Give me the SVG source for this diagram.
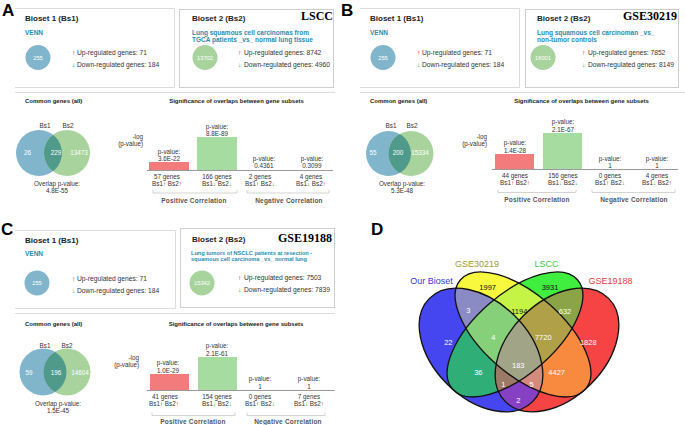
<svg xmlns="http://www.w3.org/2000/svg" width="685" height="425" viewBox="0 0 685 425">
<style>
text{font-family:"Liberation Sans",Arial,sans-serif}
.pl{font-size:17px;font-weight:bold;fill:#000}
.h{font-size:8px;font-weight:bold;fill:#222}
.vn{font-size:6.5px;font-weight:bold;fill:#2b8bb0}
.rg{font-size:6.7px;fill:#333}
.ar{font-size:6.5px}
.up{fill:#e02222}
.dn{fill:#33aa33}
.cw{font-size:5.8px;fill:#fff;text-anchor:middle}
.ds{font-size:6.5px;font-weight:bold;fill:#2b8bb0}
.ds2{font-size:5.6px;font-weight:bold;fill:#2b8bb0}
.ti{font-size:12px;font-weight:bold;font-family:"Liberation Serif","Times New Roman",serif;fill:#000;text-anchor:end}
.st{font-size:6px;font-weight:bold;fill:#222}
.stc{font-size:6px;font-weight:bold;fill:#222;text-anchor:middle}
.sm{font-size:6.3px;fill:#333;text-anchor:middle}
.sr{font-size:6.3px;fill:#333;text-anchor:end}
.vw{font-size:6.3px;fill:#fff;text-anchor:middle}
.cr{font-size:6.5px;font-weight:bold;fill:#555;text-anchor:middle;letter-spacing:0.2px}
.fr{stroke:#dcdcdc;fill:none;stroke-width:1}
.bx{stroke:#cfcfcf;fill:#fff;stroke-width:1}
.ax{stroke:#9a9a9a;stroke-width:1}
.br{stroke:#c8c8c8;fill:none;stroke-width:0.8}
.cb{fill:#80b5cb}
.cg{fill:#a8d39d}
.co{fill:#4f9a8a}
.rb{fill:#f47b7b}
.gb{fill:#a7dca1}
.vl{font-size:9px;text-anchor:middle}
.n{font-size:7.5px;text-anchor:middle;fill:#fff}
.nk{fill:#111}
</style>
<defs>
<clipPath id="clA"><circle cx="39" cy="153" r="23"/></clipPath>
<clipPath id="clB"><circle cx="43.5" cy="153.5" r="22.5"/></clipPath>
<clipPath id="clC"><circle cx="43" cy="372" r="23.5"/></clipPath>
<ellipse id="eB" cx="481" cy="350" rx="73" ry="48" transform="rotate(45 481 350)"/>
<ellipse id="eY" cx="523" cy="334.4" rx="83" ry="40" transform="rotate(41.2 523 334.4)"/>
<ellipse id="eG" cx="515" cy="334.4" rx="83" ry="40" transform="rotate(-41.2 515 334.4)"/>
<ellipse id="eR" cx="557" cy="350" rx="73" ry="48" transform="rotate(-45 557 350)"/>
<clipPath id="cB"><use href="#eB"/></clipPath>
<clipPath id="cY"><use href="#eY"/></clipPath>
<clipPath id="cG"><use href="#eG"/></clipPath>
</defs>

<!-- ================= PANEL A ================= -->
<g id="panelA">
<text class="pl" x="2" y="16">A</text>
<g id="A-bioset1">
<path class="fr" d="M15,8.5H174.5V87.5H15"/>
<text class="h" x="25" y="21">Bioset 1 (Bs1)</text>
<text class="vn" x="25" y="34.5">VENN</text>
<circle class="cb" cx="38" cy="57.5" r="12.5"/>
<text class="cw" x="38" y="59.5">255</text>
<text class="ar up" x="72" y="54.5">↑</text><text class="rg" x="77" y="54.5">Up-regulated genes: 71</text>
<text class="ar dn" x="72" y="66.5">↓</text><text class="rg" x="77" y="66.5">Down-regulated genes: 184</text>
</g>
<g id="A-bioset2">
<rect class="bx" x="179.5" y="9.5" width="154" height="78"/>
<text class="h" x="192" y="21">Bioset 2 (Bs2)</text>
<text class="ti" x="333" y="20">LSCC</text>
<text class="ds" x="192" y="34.5">Lung squamous cell carcinomas from</text>
<text class="ds" x="192" y="41.5">TGCA patients _vs_ normal lung tissue</text>
<circle class="cg" cx="205" cy="57.5" r="12.5"/>
<text class="cw" x="205" y="59.5">13702</text>
<text class="ar up" x="238" y="54.5">↑</text><text class="rg" x="244" y="54.5">Up-regulated genes: 8742</text>
<text class="ar dn" x="238" y="66.5">↓</text><text class="rg" x="244" y="66.5">Down-regulated genes: 4960</text>
</g>
<g id="A-common">
<line class="fr" x1="15" y1="92.5" x2="335" y2="92.5"/>
<text class="st" x="25" y="103">Common genes (all)</text>
<circle class="cb" cx="39" cy="153" r="23"/>
<circle class="cg" cx="67" cy="153" r="23"/>
<circle class="co" cx="67" cy="153" r="23" clip-path="url(#clA)"/>
<text class="sm" x="45" y="128">Bs1</text>
<text class="sm" x="68" y="128">Bs2</text>
<text class="vw" x="27.5" y="154.5">26</text>
<text class="vw" x="56" y="154.5">229</text>
<text class="vw" x="79" y="154.5">13473</text>
<text class="sm" x="57" y="185.5">Overlap p-value:</text>
<text class="sm" x="57" y="193">4.8E-55</text>
</g>
<g id="A-overlaps">
<text class="stc" x="236.5" y="103">Significance of overlaps between gene subsets</text>
<text class="sr" x="143" y="139">-log</text>
<text class="sr" x="143" y="146">(p-value)</text>
<rect class="rb" x="149" y="162" width="40" height="8"/>
<rect class="gb" x="197" y="137" width="40" height="33"/>
<line class="ax" x1="147" y1="170.5" x2="333" y2="170.5"/>
<text class="sm" x="169" y="153.5">p-value:</text><text class="sm" x="169" y="160.5">3.6E-22</text>
<text class="sm" x="217" y="128.5">p-value:</text><text class="sm" x="217" y="135.5">8.8E-89</text>
<text class="sm" x="264" y="160.5">p-value:</text><text class="sm" x="264" y="168">0.4361</text>
<text class="sm" x="312" y="160.5">p-value:</text><text class="sm" x="312" y="168">0.3099</text>
<text class="sm" x="167" y="178.5">57 genes</text><text class="sm" x="167" y="185.5">Bs1<tspan class="up">↑</tspan> Bs2<tspan class="up">↑</tspan></text>
<text class="sm" x="217" y="178.5">166 genes</text><text class="sm" x="217" y="185.5">Bs1<tspan class="dn">↓</tspan> Bs2<tspan class="dn">↓</tspan></text>
<text class="sm" x="260" y="178.5">2 genes</text><text class="sm" x="260" y="185.5">Bs1<tspan class="up">↑</tspan> Bs2<tspan class="dn">↓</tspan></text>
<text class="sm" x="311" y="178.5">4 genes</text><text class="sm" x="311" y="185.5">Bs1<tspan class="dn">↓</tspan> Bs2<tspan class="up">↑</tspan></text>
<path class="br" d="M153,190V193H237V190M247,190V193H329V190"/>
<text class="cr" x="194" y="203">Positive Correlation</text>
<text class="cr" x="289" y="203">Negative Correlation</text>
</g>
</g>

<!-- ================= PANEL B ================= -->
<g id="panelB">
<text class="pl" x="341" y="16">B</text>
<g transform="translate(345,0)">
<g id="B-bioset1">
<path class="fr" d="M15,8.5H174.5V87.5H15"/>
<text class="h" x="25" y="21">Bioset 1 (Bs1)</text>
<text class="vn" x="25" y="34.5">VENN</text>
<circle class="cb" cx="38" cy="57.5" r="12.5"/>
<text class="cw" x="38" y="59.5">255</text>
<text class="ar up" x="72" y="54.5">↑</text><text class="rg" x="77" y="54.5">Up-regulated genes: 71</text>
<text class="ar dn" x="72" y="66.5">↓</text><text class="rg" x="77" y="66.5">Down-regulated genes: 184</text>
</g>
<g id="B-bioset2">
<rect class="bx" x="180.5" y="9.5" width="153" height="78"/>
<text class="h" x="192" y="21">Bioset 2 (Bs2)</text>
<text class="ti" x="332" y="20">GSE30219</text>
<text class="ds" x="192" y="34.5">Lung squamous cell carcinoman _vs_</text>
<text class="ds" x="192" y="41.5">non-tumor controls</text>
<circle class="cg" cx="198" cy="57.5" r="12.5"/>
<text class="cw" x="198" y="59.5">16001</text>
<text class="ar up" x="237" y="54.5">↑</text><text class="rg" x="243" y="54.5">Up-regulated genes: 7852</text>
<text class="ar dn" x="237" y="66.5">↓</text><text class="rg" x="243" y="66.5">Down-regulated genes: 8149</text>
</g>
<g id="B-common">
<line class="fr" x1="15" y1="92.5" x2="340" y2="92.5"/>
<text class="st" x="25" y="103">Common genes (all)</text>
<circle class="cb" cx="43.5" cy="153.5" r="22.5"/>
<circle class="cg" cx="66" cy="153.5" r="22.5"/>
<circle class="co" cx="66" cy="153.5" r="22.5" clip-path="url(#clB)"/>
<text class="sm" x="46" y="128">Bs1</text>
<text class="sm" x="67" y="128">Bs2</text>
<text class="vw" x="28" y="155">55</text>
<text class="vw" x="53" y="155">200</text>
<text class="vw" x="75" y="155">15334</text>
<text class="sm" x="57" y="185.5">Overlap p-value:</text>
<text class="sm" x="57" y="193">5.3E-48</text>
</g>
<g id="B-overlaps">
<text class="stc" x="236.5" y="103">Significance of overlaps between gene subsets</text>
<text class="sr" x="142" y="139">-log</text>
<text class="sr" x="142" y="146">(p-value)</text>
<rect class="rb" x="150" y="154" width="39" height="15"/>
<rect class="gb" x="198" y="133" width="39" height="36"/>
<line class="ax" x1="147" y1="169.5" x2="333" y2="169.5"/>
<text class="sm" x="170" y="145">p-value:</text><text class="sm" x="170" y="152.5">1.4E-28</text>
<text class="sm" x="218" y="124">p-value:</text><text class="sm" x="218" y="131.5">2.1E-67</text>
<text class="sm" x="265" y="160.5">p-value:</text><text class="sm" x="265" y="168">1</text>
<text class="sm" x="312" y="160.5">p-value:</text><text class="sm" x="312" y="168">1</text>
<text class="sm" x="170" y="178">44 genes</text><text class="sm" x="170" y="185">Bs1<tspan class="up">↑</tspan> Bs2<tspan class="up">↑</tspan></text>
<text class="sm" x="218" y="178">156 genes</text><text class="sm" x="218" y="185">Bs1<tspan class="dn">↓</tspan> Bs2<tspan class="dn">↓</tspan></text>
<text class="sm" x="265" y="178">0 genes</text><text class="sm" x="265" y="185">Bs1<tspan class="up">↑</tspan> Bs2<tspan class="dn">↓</tspan></text>
<text class="sm" x="312" y="178">4 genes</text><text class="sm" x="312" y="185">Bs1<tspan class="dn">↓</tspan> Bs2<tspan class="up">↑</tspan></text>
<path class="br" d="M153,189.5V192.5H231V189.5M247,189.5V192.5H330V189.5"/>
<text class="cr" x="192" y="202">Positive Correlation</text>
<text class="cr" x="289" y="202">Negative Correlation</text>
</g>
</g>
</g>

<!-- ================= PANEL C ================= -->
<g id="panelC">
<text class="pl" x="1" y="235">C</text>
<g id="C-bioset1">
<path class="fr" d="M15,230.5H175.5V308.5H15"/>
<text class="h" x="25" y="243">Bioset 1 (Bs1)</text>
<text class="vn" x="25" y="255.5">VENN</text>
<circle class="cb" cx="37" cy="283" r="12.5"/>
<text class="cw" x="37" y="285">255</text>
<text class="ar up" x="72" y="281">↑</text><text class="rg" x="77" y="281">Up-regulated genes: 71</text>
<text class="ar dn" x="72" y="293">↓</text><text class="rg" x="77" y="293">Down-regulated genes: 184</text>
</g>
<g id="C-bioset2">
<rect class="bx" x="180.5" y="228.5" width="154" height="79"/>
<text class="h" x="192" y="242">Bioset 2 (Bs2)</text>
<text class="ti" x="332" y="242">GSE19188</text>
<text class="ds2" x="191" y="255">Lung tumors of NSCLC patients at resection -</text>
<text class="ds2" x="191" y="261">squamous cell carcinoma _vs_ normal lung</text>
<circle class="cg" cx="202" cy="283" r="12.5"/>
<text class="cw" x="202" y="285">15342</text>
<text class="ar up" x="238" y="280">↑</text><text class="rg" x="244" y="280">Up-regulated genes: 7503</text>
<text class="ar dn" x="238" y="292">↓</text><text class="rg" x="244" y="292">Down-regulated genes: 7839</text>
</g>
<g id="C-common">
<line class="fr" x1="15" y1="313.5" x2="335" y2="313.5"/>
<text class="st" x="25" y="325.5">Common genes (all)</text>
<circle class="cb" cx="43" cy="372" r="23.5"/>
<circle class="cg" cx="67" cy="372" r="23.5"/>
<circle class="co" cx="67" cy="372" r="23.5" clip-path="url(#clC)"/>
<text class="sm" x="45" y="347.5">Bs1</text>
<text class="sm" x="67" y="347.5">Bs2</text>
<text class="vw" x="29" y="374.5">59</text>
<text class="vw" x="56" y="374.5">196</text>
<text class="vw" x="80" y="374.5">14604</text>
<text class="sm" x="58" y="405.5">Overlap p-value:</text>
<text class="sm" x="58" y="413">1.5E-45</text>
</g>
<g id="C-overlaps">
<text class="stc" x="236" y="325.5">Significance of overlaps between gene subsets</text>
<text class="sr" x="139" y="360">-log</text>
<text class="sr" x="139" y="366.5">(p-value)</text>
<rect class="rb" x="150" y="374" width="39" height="16"/>
<rect class="gb" x="198" y="357" width="39" height="33"/>
<line class="ax" x1="147" y1="390.5" x2="335" y2="390.5"/>
<text class="sm" x="168" y="365">p-value:</text><text class="sm" x="168" y="372.5">1.0E-29</text>
<text class="sm" x="217" y="348">p-value:</text><text class="sm" x="217" y="355.5">2.1E-61</text>
<text class="sm" x="260" y="381">p-value:</text><text class="sm" x="260" y="388.5">1</text>
<text class="sm" x="309" y="381">p-value:</text><text class="sm" x="309" y="388.5">1</text>
<text class="sm" x="165" y="398.5">41 genes</text><text class="sm" x="164" y="405.5">Bs1<tspan class="up">↑</tspan> Bs2<tspan class="up">↑</tspan></text>
<text class="sm" x="217" y="398.5">154 genes</text><text class="sm" x="217" y="405.5">Bs1<tspan class="dn">↓</tspan> Bs2<tspan class="dn">↓</tspan></text>
<text class="sm" x="260" y="398.5">0 genes</text><text class="sm" x="260" y="405.5">Bs1<tspan class="up">↑</tspan> Bs2<tspan class="dn">↓</tspan></text>
<text class="sm" x="309" y="398.5">7 genes</text><text class="sm" x="309" y="405.5">Bs1<tspan class="dn">↓</tspan> Bs2<tspan class="up">↑</tspan></text>
<path class="br" d="M152,412.5V415.5H235V412.5M247,412.5V415.5H325V412.5"/>
<text class="cr" x="193" y="424">Positive Correlation</text>
<text class="cr" x="288" y="424">Negative Correlation</text>
</g>
</g>

<!-- ================= PANEL D ================= -->
<g id="panelD">
<text class="pl" x="371" y="235">D</text>
<g id="D-venn">
<use href="#eB" fill="#4646f0"/>
<use href="#eY" fill="#f8f83e"/>
<use href="#eG" fill="#40ee40"/>
<use href="#eR" fill="#f64444"/>
<g clip-path="url(#cB)"><use href="#eY" fill="#8a8ac4"/><use href="#eG" fill="#2fae78"/><use href="#eR" fill="#8640c4"/></g>
<g clip-path="url(#cY)"><use href="#eG" fill="#c6f446"/><use href="#eR" fill="#f88a40"/></g>
<g clip-path="url(#cG)"><use href="#eR" fill="#8ca448"/></g>
<g clip-path="url(#cB)"><g clip-path="url(#cY)"><use href="#eG" fill="#86d07a"/><use href="#eR" fill="#d48a7e"/></g><g clip-path="url(#cG)"><use href="#eR" fill="#9c7a68"/></g></g>
<g clip-path="url(#cY)"><g clip-path="url(#cG)"><use href="#eR" fill="#b0a048"/></g></g>
<g clip-path="url(#cB)"><g clip-path="url(#cY)"><g clip-path="url(#cG)"><use href="#eR" fill="#a2a488"/></g></g></g>
<g fill="none" stroke="#111" stroke-width="1.3"><use href="#eB"/><use href="#eY"/><use href="#eG"/><use href="#eR"/></g>
</g>
<g id="D-labels">
<text class="vl" x="431.5" y="284" fill="#3a3ad0">Our Bioset</text>
<text class="vl" x="477" y="267" fill="#9c9c3c">GSE30219</text>
<text class="vl" x="546.5" y="267" fill="#3cc83c">LSCC</text>
<text class="vl" x="610.5" y="284" fill="#e43c3c">GSE19188</text>
<text class="n nk" x="487.7" y="289.5">1997</text>
<text class="n nk" x="550" y="289.5">3931</text>
<text class="n nk" x="519.3" y="313.8">1194</text>
<text class="n" x="468.3" y="312.8">3</text>
<text class="n" x="565" y="313.5">632</text>
<text class="n" x="448.3" y="344.5">22</text>
<text class="n" x="493.3" y="339.5">4</text>
<text class="n" x="543.3" y="339.5">7720</text>
<text class="n" x="588.3" y="344.5">1828</text>
<text class="n" x="518.3" y="367.8">183</text>
<text class="n" x="478.3" y="374.5">36</text>
<text class="n" x="556.7" y="374.5">4427</text>
<text class="n" x="503.3" y="386.8">1</text>
<text class="n" x="531.7" y="386.8">5</text>
<text class="n" x="518.3" y="402.8">2</text>
</g>
</g>
</svg>
